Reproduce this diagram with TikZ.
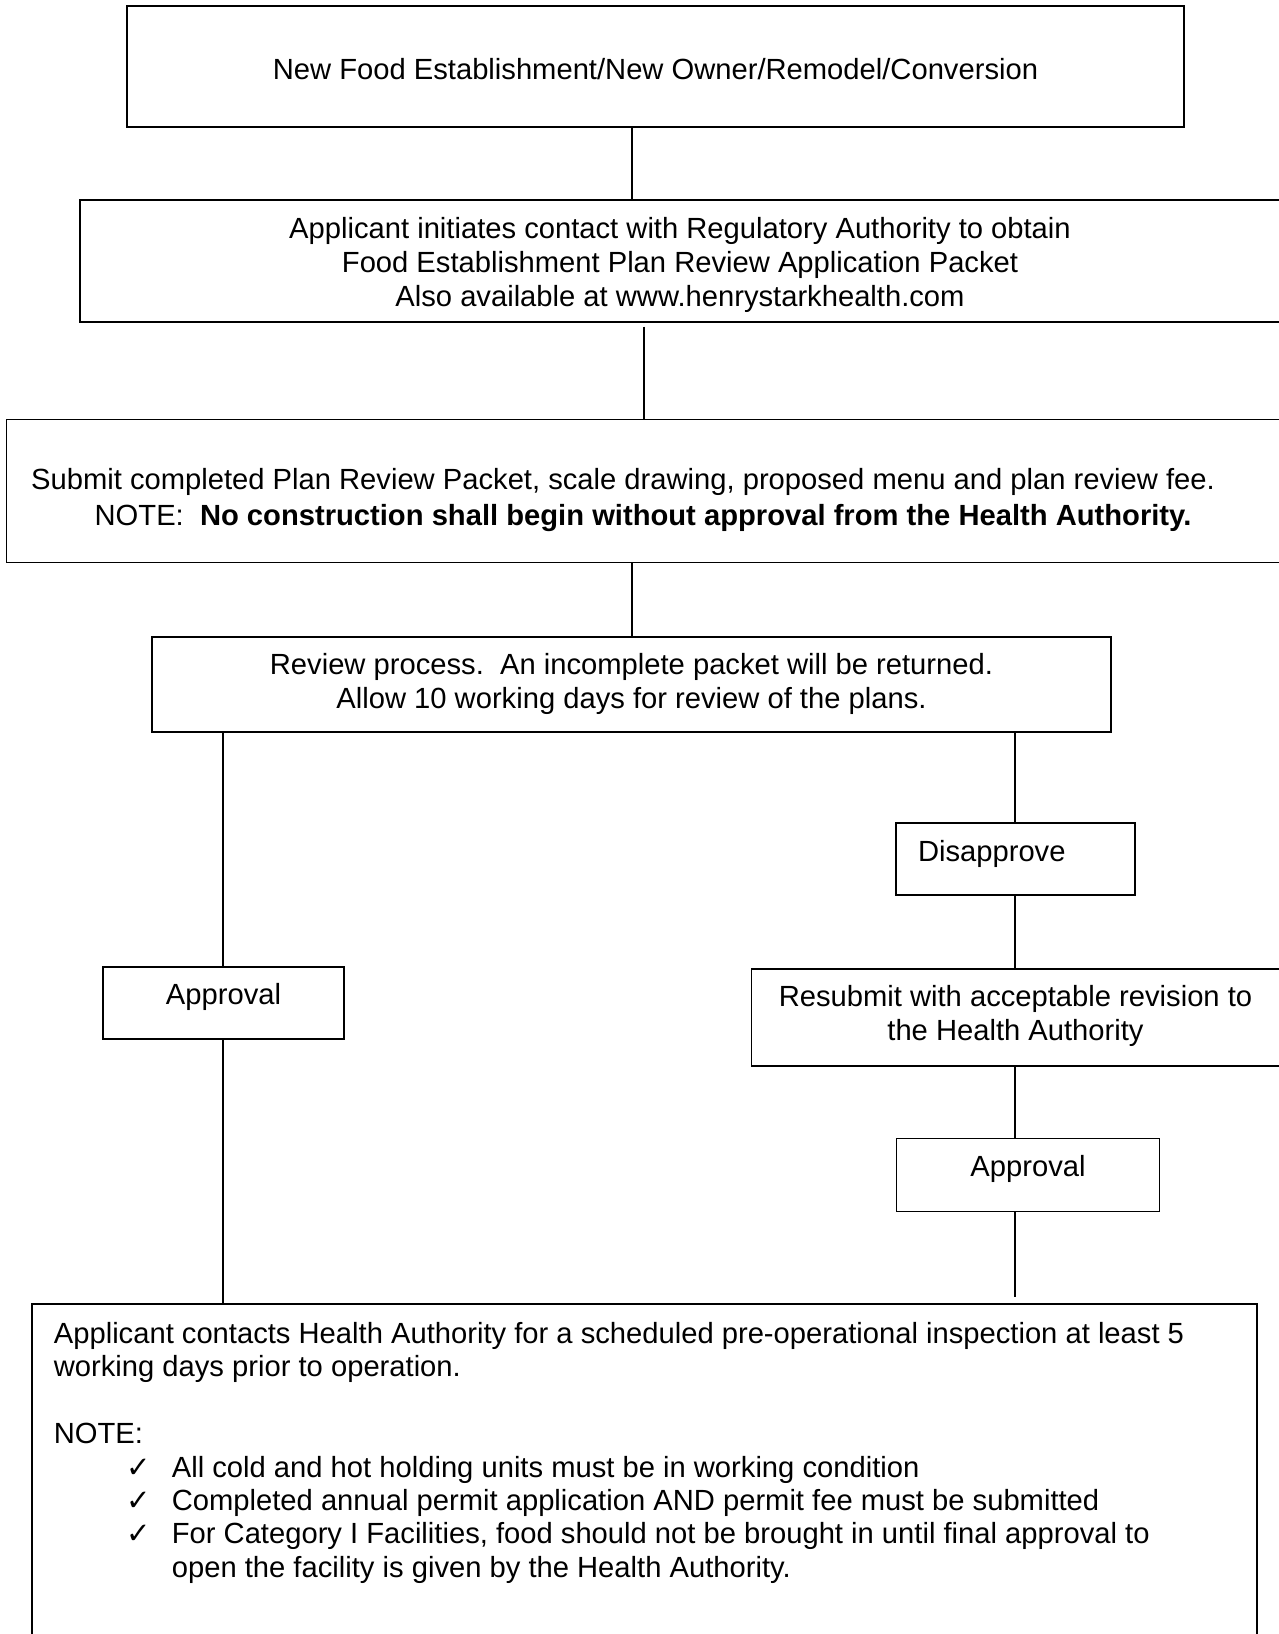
\documentclass[tikz,border=0pt]{standalone}
\usepackage{fontspec}
\setmainfont{Liberation Sans}
\newfontfamily\symfont{DejaVu Sans}
\usetikzlibrary{positioning,calc}

\begin{document}
\begin{tikzpicture}[font=\fontsize{16.6}{19.5}\selectfont, line width=1pt,
    box/.style={rectangle, draw, align=center, inner sep=0pt}]
				\useasboundingbox (0,0) rectangle (25.58,-32.68);
				\node[box, minimum width=21.14cm, minimum height=2.42cm, text height=0.6cm, text depth=0.06cm] (new) at (13.11,-1.33) {New Food Establishment/New Owner/Remodel/Conversion};
				\node[box, minimum width=24cm, minimum height=2.44cm, text height=1.9cm, text depth=0.06cm, below=1.42cm of new, xshift=0.49cm] (cont) {Applicant initiates contact with Regulatory Authority to obtain\\Food Establishment Plan Review Application Packet\\Also available at www.henrystarkhealth.com};
				\node[box, minimum width=25.46cm, minimum height=2.86cm, text height=1.44cm, text depth=0.06cm, below=1.92cm of cont, xshift=-0.74cm] (sub) {Submit completed Plan Review Packet, scale drawing, proposed menu and plan review fee.\hspace*{0.8cm}\\[1pt]NOTE:\ \ \textbf{No construction shall begin without approval from the Health Authority.}};
				\node[box, minimum width=19.18cm, minimum height=1.9cm, text height=1cm, text depth=0.06cm, below=1.46cm of sub, xshift=-0.23cm] (rev) {Review process.\ \ An incomplete packet will be returned.\\Allow 10 working days for review of the plans.};
				
				\node[box, align=left, text width=3.9cm, inner xsep=0.44cm, minimum height=1.44cm, text height=0.44cm, text depth=0.34cm] (dis) at (20.31,-17.18) {Disapprove};
				\node[box, minimum width=10.56cm, minimum height=1.94cm, text height=1cm, text depth=0.06cm, below=1.44cm of dis] (resub) {Resubmit with acceptable revision to\\the Health Authority};
				\node[box, minimum width=5.26cm, minimum height=1.46cm, text height=0.44cm, text depth=0.38cm, below=1.42cm of resub, xshift=0.25cm] (app2) {Approval};
				\node[box, minimum width=4.82cm, minimum height=1.44cm, text height=0.44cm, text depth=0.38cm] (app1) at (4.47,-20.06) {Approval};
				
				\node[box, anchor=north west, minimum width=24.5cm, minimum height=7.6cm] (insp) at (0.62,-26.06) {};
				\node[align=left, inner sep=0pt, font=\fontsize{16.6}{19}\selectfont, below right=0.37cm and 0.44cm of insp.north west] (insptext) {Applicant contacts Health Authority for a scheduled pre-operational inspection at least 5\\working days prior to operation.\\[19pt]
				NOTE:\\
				\hspace*{1.46cm}\makebox[0.9cm][l]{\symfont ✓}All cold and hot holding units must be in working condition\\
				\hspace*{1.46cm}\makebox[0.9cm][l]{\symfont ✓}Completed annual permit application AND permit fee must be submitted\\
				\hspace*{1.46cm}\makebox[0.9cm][l]{\symfont ✓}For Category I Facilities, food should not be brought in until final approval to\\
				\hspace*{2.36cm}open the facility is given by the Health Authority.};
				
				% x positions of the connectors
				\coordinate (xa) at (12.64,0);
				\coordinate (xb) at (12.88,0);
				\coordinate (xl) at (4.46,0);
				\coordinate (xr) at (20.3,0);
				
				\draw (new.south -| xa) -- (cont.north -| xa);
				\draw[shorten <=0.08cm] (cont.south -| xb) -- (sub.north -| xb);
				\draw (sub.south -| xa) -- (rev.north -| xa);
				\draw (rev.south -| xl) -- (app1.north -| xl);
				\draw (app1.south -| xl) -- (insp.north -| xl);
				\draw (rev.south -| xr) -- (dis.north -| xr);
				\draw (dis.south -| xr) -- (resub.north -| xr);
				\draw (resub.south -| xr) -- (app2.north -| xr);
				\draw[shorten >=0.12cm] (app2.south -| xr) -- (insp.north -| xr);
			\end{tikzpicture}
\end{document}
